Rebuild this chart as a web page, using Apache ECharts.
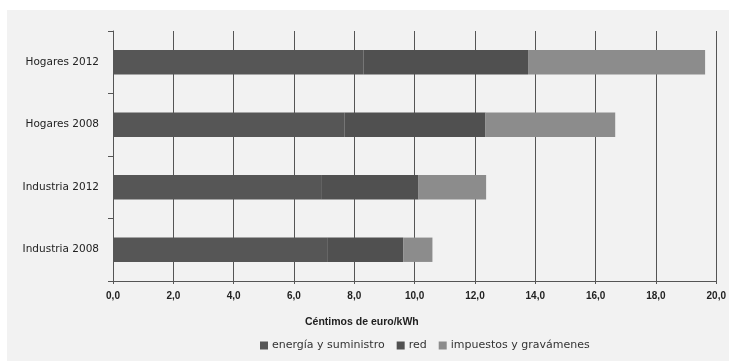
<!DOCTYPE html>
<html>
<head>
<meta charset="utf-8">
<script src="https://cdn.jsdelivr.net/npm/echarts@6/dist/echarts.min.js"></script>
<style>
html,body{margin:0;padding:0;background:#ffffff;}
#chart{width:729px;height:361px;}
</style>
</head>
<body>
<div id="chart"></div>
<script>
var categories = ['Industria 2008', 'Industria 2012', 'Hogares 2008', 'Hogares 2012'];
var energia = [7.10, 6.90, 7.67, 8.31];
var red = [2.52, 3.23, 4.68, 5.45];
var impuestos = [0.97, 2.24, 4.30, 5.87];
var seriesNames = ['energía y suministro', 'red', 'impuestos y gravámenes'];
var axisTitle = 'Céntimos de euro/kWh';

var chart = echarts.init(document.getElementById('chart'), null, {renderer: 'canvas'});
var font = 'Liberation Sans, Arial, sans-serif';
var wide = 'DejaVu Sans, sans-serif';
chart.setOption({
  animation: false,
  backgroundColor: '#ffffff',
  graphic: [
    {type: 'rect', z: -10, shape: {x: 7, y: 10, width: 722, height: 351}, style: {fill: '#f2f2f2'}},
    {type: 'text', left: 305, top: 317, style: {text: axisTitle, font: 'bold 10.5px ' + font, fill: '#222'}}
  ],
  grid: {left: 113, right: 11, top: 31, bottom: 80, containLabel: false},
  legend: {
    left: 255, top: 335, itemWidth: 8, itemHeight: 8, itemGap: 12,
    icon: 'rect',
    textStyle: {fontFamily: wide, fontSize: 11, color: '#333', padding: [0, 0, 0, -1]},
    data: seriesNames
  },
  xAxis: {
    type: 'value', min: 0, max: 20, interval: 2,
    axisLine: {show: true, lineStyle: {color: '#555', width: 1}},
    axisTick: {show: true, length: 3, lineStyle: {color: '#555'}},
    splitLine: {show: true, lineStyle: {color: '#555', width: 1}},
    axisLabel: {
      margin: 10, fontFamily: font, fontSize: 10, fontWeight: 'bold', color: '#222',
      formatter: function (v) { return v.toFixed(1).replace('.', ','); }
    }
  },
  yAxis: {
    type: 'category', data: categories,
    axisLine: {show: true, lineStyle: {color: '#555', width: 1}},
    axisTick: {show: true, length: 5, lineStyle: {color: '#555'}},
    axisLabel: {margin: 14, fontFamily: wide, fontSize: 10.5, color: '#222'}
  },
  series: [
    {name: seriesNames[0], type: 'bar', stack: 't', data: energia, barCategoryGap: '61%',
      itemStyle: {color: '#565656'}},
    {name: seriesNames[1], type: 'bar', stack: 't', data: red,
      itemStyle: {color: '#505050'}},
    {name: seriesNames[2], type: 'bar', stack: 't', data: impuestos,
      itemStyle: {color: '#8c8c8c'}}
  ]
});
</script>
</body>
</html>
